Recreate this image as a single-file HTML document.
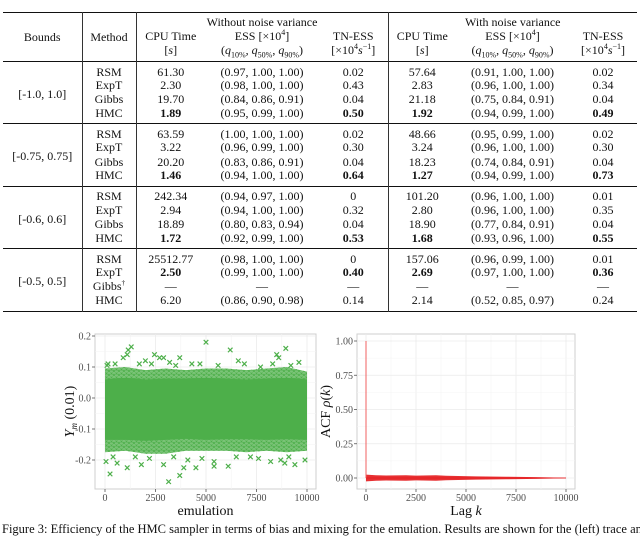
<!DOCTYPE html>
<html><head><meta charset="utf-8">
<style>
html,body{margin:0;padding:0;background:#fff;}
body{width:640px;height:531px;position:relative;overflow:hidden;font-family:"Liberation Serif",serif;color:#111;}
#tbl{position:absolute;left:3px;top:12px;width:634px;border-collapse:collapse;table-layout:fixed;font-size:12px;}
#tbl td,#tbl th{padding:0;text-align:center;font-weight:normal;white-space:nowrap;line-height:13px;}
#tbl sup,#tbl sub{line-height:0;}
#tbl thead{border-top:1.6px solid #111;border-bottom:1.2px solid #111;}
#tbl tbody{border-bottom:1.2px solid #111;}
#tbl tbody:last-child{border-bottom:1.6px solid #111;}
#tbl tbody tr{height:14.2px;}
#tbl tbody tr.f td{padding-top:3.5px;}
#tbl tbody tr.l td{padding-bottom:3.5px;}
.vl{border-right:1px solid #333;}
b{font-weight:bold;}
#caption{position:absolute;left:2px;top:522px;font-size:12.5px;white-space:nowrap;}
svg text{font-family:"Liberation Serif",serif;}
</style></head><body>
<table id="tbl">
<colgroup><col style="width:79px"><col style="width:54px"><col style="width:69px"><col style="width:114px"><col style="width:69px"><col style="width:68px"><col style="width:113px"><col style="width:68px"></colgroup>
<thead>
<tr style="height:16px"><th rowspan="3" class="vl">Bounds</th><th rowspan="3" class="vl">Method</th><th colspan="3" class="vl" style="vertical-align:bottom">Without noise variance</th><th colspan="3" style="vertical-align:bottom">With noise variance</th></tr>
<tr style="height:15px"><th>CPU Time</th><th>ESS [×10<sup style="font-size:8px">4</sup>]</th><th class="vl">TN-ESS</th><th>CPU Time</th><th>ESS [×10<sup style="font-size:8px">4</sup>]</th><th>TN-ESS</th></tr>
<tr style="height:18px"><th style="vertical-align:top">[<i>s</i>]</th><th style="vertical-align:top">(<i>q</i><sub style="font-size:8px">10%</sub>, <i>q</i><sub style="font-size:8px">50%</sub>, <i>q</i><sub style="font-size:8px">90%</sub>)</th><th class="vl" style="vertical-align:top">[×10<sup style="font-size:8px">4</sup><i>s</i><sup style="font-size:8px">−1</sup>]</th><th style="vertical-align:top">[<i>s</i>]</th><th style="vertical-align:top">(<i>q</i><sub style="font-size:8px">10%</sub>, <i>q</i><sub style="font-size:8px">50%</sub>, <i>q</i><sub style="font-size:8px">90%</sub>)</th><th style="vertical-align:top">[×10<sup style="font-size:8px">4</sup><i>s</i><sup style="font-size:8px">−1</sup>]</th></tr>
</thead>
<tbody>
<tr class="f"><td rowspan="4" class="vl">[-1.0, 1.0]</td><td class="vl">RSM</td><td>61.30</td><td>(0.97, 1.00, 1.00)</td><td class="vl">0.02</td><td>57.64</td><td>(0.91, 1.00, 1.00)</td><td>0.02</td></tr>
<tr><td class="vl">ExpT</td><td>2.30</td><td>(0.98, 1.00, 1.00)</td><td class="vl">0.43</td><td>2.83</td><td>(0.96, 1.00, 1.00)</td><td>0.34</td></tr>
<tr><td class="vl">Gibbs</td><td>19.70</td><td>(0.84, 0.86, 0.91)</td><td class="vl">0.04</td><td>21.18</td><td>(0.75, 0.84, 0.91)</td><td>0.04</td></tr>
<tr class="l"><td class="vl">HMC</td><td><b>1.89</b></td><td>(0.95, 0.99, 1.00)</td><td class="vl"><b>0.50</b></td><td><b>1.92</b></td><td>(0.94, 0.99, 1.00)</td><td><b>0.49</b></td></tr>
</tbody>
<tbody>
<tr class="f"><td rowspan="4" class="vl">[-0.75, 0.75]</td><td class="vl">RSM</td><td>63.59</td><td>(1.00, 1.00, 1.00)</td><td class="vl">0.02</td><td>48.66</td><td>(0.95, 0.99, 1.00)</td><td>0.02</td></tr>
<tr><td class="vl">ExpT</td><td>3.22</td><td>(0.96, 0.99, 1.00)</td><td class="vl">0.30</td><td>3.24</td><td>(0.96, 1.00, 1.00)</td><td>0.30</td></tr>
<tr><td class="vl">Gibbs</td><td>20.20</td><td>(0.83, 0.86, 0.91)</td><td class="vl">0.04</td><td>18.23</td><td>(0.74, 0.84, 0.91)</td><td>0.04</td></tr>
<tr class="l"><td class="vl">HMC</td><td><b>1.46</b></td><td>(0.94, 1.00, 1.00)</td><td class="vl"><b>0.64</b></td><td><b>1.27</b></td><td>(0.94, 0.99, 1.00)</td><td><b>0.73</b></td></tr>
</tbody>
<tbody>
<tr class="f"><td rowspan="4" class="vl">[-0.6, 0.6]</td><td class="vl">RSM</td><td>242.34</td><td>(0.94, 0.97, 1.00)</td><td class="vl">0</td><td>101.20</td><td>(0.96, 1.00, 1.00)</td><td>0.01</td></tr>
<tr><td class="vl">ExpT</td><td>2.94</td><td>(0.94, 1.00, 1.00)</td><td class="vl">0.32</td><td>2.80</td><td>(0.96, 1.00, 1.00)</td><td>0.35</td></tr>
<tr><td class="vl">Gibbs</td><td>18.89</td><td>(0.80, 0.83, 0.94)</td><td class="vl">0.04</td><td>18.90</td><td>(0.77, 0.84, 0.91)</td><td>0.04</td></tr>
<tr class="l"><td class="vl">HMC</td><td><b>1.72</b></td><td>(0.92, 0.99, 1.00)</td><td class="vl"><b>0.53</b></td><td><b>1.68</b></td><td>(0.93, 0.96, 1.00)</td><td><b>0.55</b></td></tr>
</tbody>
<tbody>
<tr class="f"><td rowspan="4" class="vl">[-0.5, 0.5]</td><td class="vl">RSM</td><td>25512.77</td><td>(0.98, 1.00, 1.00)</td><td class="vl">0</td><td>157.06</td><td>(0.96, 0.99, 1.00)</td><td>0.01</td></tr>
<tr><td class="vl">ExpT</td><td><b>2.50</b></td><td>(0.99, 1.00, 1.00)</td><td class="vl"><b>0.40</b></td><td><b>2.69</b></td><td>(0.97, 1.00, 1.00)</td><td><b>0.36</b></td></tr>
<tr><td class="vl">Gibbs<sup style="font-size:7px">†</sup></td><td>—</td><td>—</td><td class="vl">—</td><td>—</td><td>—</td><td>—</td></tr>
<tr class="l"><td class="vl">HMC</td><td>6.20</td><td>(0.86, 0.90, 0.98)</td><td class="vl">0.14</td><td>2.14</td><td>(0.52, 0.85, 0.97)</td><td>0.24</td></tr>
</tbody>
</table>

<svg id="charts" width="640" height="531" style="position:absolute;left:0;top:0">
<defs>
<pattern id="fringe" width="5" height="4" patternUnits="userSpaceOnUse">
<path d="M0.5,0.5 L2.5,2.5 M2.5,0.5 L0.5,2.5 M3,2 L4.8,3.8 M4.8,2 L3,3.8" stroke="#4daf4a" stroke-width="0.8"/>
</pattern>
</defs>
<g id="left"></g><g id="right"></g>
</svg>
<div id="caption">Figure 3: Efficiency of the HMC sampler in terms of bias and mixing for the emulation. Results are shown for the (left) trace and</div>

<script>
// left trace plot data
const traceBinX = [0, 1000, 2000, 3000, 4000, 5000, 6000, 7000, 8000, 9000, 10000];
const traceCoreUpper = [0.06, 0.065, 0.06, 0.062, 0.062, 0.065, 0.062, 0.06, 0.062, 0.065, 0.06];
const traceCoreLower = [-0.135, -0.135, -0.138, -0.135, -0.132, -0.135, -0.133, -0.133, -0.135, -0.133, -0.135];
const traceOuterUpper = [0.095, 0.1, 0.09, 0.095, 0.09, 0.095, 0.095, 0.09, 0.095, 0.1, 0.085];
const traceOuterLower = [-0.175, -0.17, -0.18, -0.18, -0.17, -0.17, -0.17, -0.175, -0.17, -0.175, -0.17];
const outlierX = [5000, 6200, 8950, 1300, 1150, 900, 2450, 2700, 2900, 3700, 1100, 6600, 8500, 8600, 9600, 150, 100, 4300, 3200, 2000, 1700, 2300, 3500, 4700, 5600, 6900, 7700, 8300, 9200, 500, 250, 3150, 3700, 1100, 3900, 4500, 5400, 5400, 6100, 1800, 600, 8200, 8900, 9400, 9900, 50, 2900, 4100, 7200, 8700, 1500, 2200, 3400, 4800, 6500, 7600, 9100, 400];
const outlierY = [0.18, 0.155, 0.16, 0.165, 0.155, 0.13, 0.14, 0.13, 0.13, 0.13, 0.14, 0.12, 0.14, 0.13, 0.115, 0.11, 0.105, 0.11, 0.115, 0.12, 0.11, 0.11, 0.105, 0.11, 0.105, 0.11, 0.1, 0.11, 0.105, 0.11, -0.245, -0.27, -0.25, -0.225, -0.225, -0.225, -0.22, -0.205, -0.22, -0.215, -0.21, -0.205, -0.21, -0.215, -0.2, -0.205, -0.215, -0.2, -0.19, -0.2, -0.19, -0.195, -0.19, -0.195, -0.19, -0.195, -0.19, -0.19];
const leftYTicks = [-0.2, -0.1, 0.0, 0.1, 0.2];
const leftYTickLabels = ["-0.2", "-0.1", "0.0", "0.1", "0.2"];
const xTicks = [0, 2500, 5000, 7500, 10000];
const xTickLabels = ["0", "2500", "5000", "7500", "10000"];
// right ACF data
const acfLag0 = 1.0;
const acfEnvLag = [0, 500, 1000, 2000, 2500, 3500, 4000, 5500, 7000, 8500, 10000];
const acfEnvAmp = [0.025, 0.02, 0.018, 0.02, 0.017, 0.02, 0.016, 0.012, 0.009, 0.006, 0.002];
const rightYTicks = [0, 0.25, 0.5, 0.75, 1.0];
const rightYTickLabels = ["0.00", "0.25", "0.50", "0.75", "1.00"];

const NS = "http://www.w3.org/2000/svg";
function mk(parent, tag, attrs) {
  const e = document.createElementNS(NS, tag);
  for (const k in attrs) e.setAttribute(k, attrs[k]);
  parent.appendChild(e);
  return e;
}
function panel(g, box, xs, ys, yt, ytl, xlab, ylab, isLeft) {
  const bg = mk(g, "rect", {x: box.x0, y: box.y0, width: box.x1 - box.x0, height: box.y1 - box.y0, fill: "#fff", stroke: "#cfcfcf", "stroke-width": 1});
  
  
  for (let i = 0; i < xTicks.length; i++) {
    const x = xs(xTicks[i]);
    mk(g, "line", {x1: x, x2: x, y1: box.y0, y2: box.y1, stroke: "#ebebeb", "stroke-width": 0.8});
    if (i < xTicks.length - 1) { const xm = xs((xTicks[i] + xTicks[i + 1]) / 2); mk(g, "line", {x1: xm, x2: xm, y1: box.y0, y2: box.y1, stroke: "#f4f4f4", "stroke-width": 0.6}); }
    mk(g, "line", {x1: x, x2: x, y1: box.y1, y2: box.y1 + 3, stroke: "#555", "stroke-width": 0.8});
    const t = mk(g, "text", {x: x, y: box.y1 + 12, "text-anchor": "middle", "font-size": 10, fill: "#4d4d4d"});
    t.textContent = xTickLabels[i];
    
    
  }
  for (let i = 0; i < yt.length; i++) {
    const y = ys(yt[i]);
    mk(g, "line", {x1: box.x0, x2: box.x1, y1: y, y2: y, stroke: "#ebebeb", "stroke-width": 0.8});
    if (i < yt.length - 1) { const ym = ys((yt[i] + yt[i + 1]) / 2); mk(g, "line", {x1: box.x0, x2: box.x1, y1: ym, y2: ym, stroke: "#f4f4f4", "stroke-width": 0.6}); }
    mk(g, "line", {x1: box.x0 - 3, x2: box.x0, y1: y, y2: y, stroke: "#555", "stroke-width": 0.8});
    const t = mk(g, "text", {x: box.x0 - 4, y: y + 3.5, "text-anchor": "end", "font-size": 10, fill: "#4d4d4d"});
    t.textContent = ytl[i];
    
    
  }
  const xl = mk(g, "text", {x: (box.x0 + box.x1) / 2, y: box.y1 + 26, "text-anchor": "middle", "font-size": 14, fill: "#111"});
  xl.innerHTML = xlab;
  
  
  const cy = (box.y0 + box.y1) / 2;
  const yl = mk(g, "text", {x: box.ylx, y: cy, "text-anchor": "middle", "font-size": 14, fill: "#111", transform: "rotate(-90 " + box.ylx + " " + cy + ")"});
  yl.innerHTML = ylab;
  
  
}

// LEFT
(function () {
  const g = document.getElementById("left");
  const box = {x0: 95, x1: 316, y0: 334, y1: 489, ylx: 74};
  const xs = v => 105 + (v / 10000) * 202;
  const ys = v => 398 - v * 310;
  panel(g, box, xs, ys, leftYTicks, leftYTickLabels, "emulation", '<tspan font-style="italic">Y</tspan><tspan font-style="italic" font-size="9" dy="3">m</tspan><tspan dy="-3"> (0.01)</tspan>', true);
  let outer = "", core = "";
  for (let i = 0; i < traceBinX.length; i++) outer += (i ? "L" : "M") + xs(traceBinX[i]) + "," + ys(traceOuterUpper[i]);
  for (let i = traceBinX.length - 1; i >= 0; i--) outer += "L" + xs(traceBinX[i]) + "," + ys(traceOuterLower[i]);
  for (let i = 0; i < traceBinX.length; i++) core += (i ? "L" : "M") + xs(traceBinX[i]) + "," + ys(traceCoreUpper[i]);
  for (let i = traceBinX.length - 1; i >= 0; i--) core += "L" + xs(traceBinX[i]) + "," + ys(traceCoreLower[i]);
  const mid = mk(g, "path", {d: outer + "Z", fill: "#4daf4a", "fill-opacity": 0.75});
  
  
  const o = mk(g, "path", {d: outer + "Z", fill: "url(#fringe)"});
  
  
  const c = mk(g, "path", {d: core + "Z", fill: "#4daf4a"});
  
  
  for (let i = 0; i < outlierX.length; i++) {
    const x = xs(outlierX[i]), y = ys(outlierY[i]);
    const p = mk(g, "path", {d: `M${x - 2.3},${y - 2.3}L${x + 2.3},${y + 2.3}M${x + 2.3},${y - 2.3}L${x - 2.3},${y + 2.3}`, stroke: "#4daf4a", "stroke-width": 1.2});
    
    
  }
})();

// RIGHT
(function () {
  const g = document.getElementById("right");
  const box = {x0: 357, x1: 575, y0: 334, y1: 489, ylx: 330};
  const xs = v => 366 + (v / 10000) * 200;
  const ys = v => 478 - v * 137;
  panel(g, box, xs, ys, rightYTicks, rightYTickLabels, 'Lag <tspan font-style="italic">k</tspan>', 'ACF <tspan font-style="italic">ρ</tspan>(<tspan font-style="italic">k</tspan>)', false);
  let d = "";
  for (let i = 0; i < acfEnvLag.length; i++) d += (i ? "L" : "M") + xs(acfEnvLag[i]) + "," + ys(acfEnvAmp[i]);
  for (let i = acfEnvLag.length - 1; i >= 0; i--) d += "L" + xs(acfEnvLag[i]) + "," + ys(-acfEnvAmp[i]);
  const b = mk(g, "path", {d: d + "Z", fill: "#e41a1c", "fill-opacity": 0.9});
  
  
  const l = mk(g, "line", {x1: xs(0), x2: xs(0), y1: ys(acfLag0), y2: ys(0), stroke: "#f06060", "stroke-width": 1});
  
  
  const z = mk(g, "line", {x1: xs(0), x2: xs(10000), y1: ys(0), y2: ys(0), stroke: "#e41a1c", "stroke-width": 0.8});
  
  
})();
</script>
</body></html>
